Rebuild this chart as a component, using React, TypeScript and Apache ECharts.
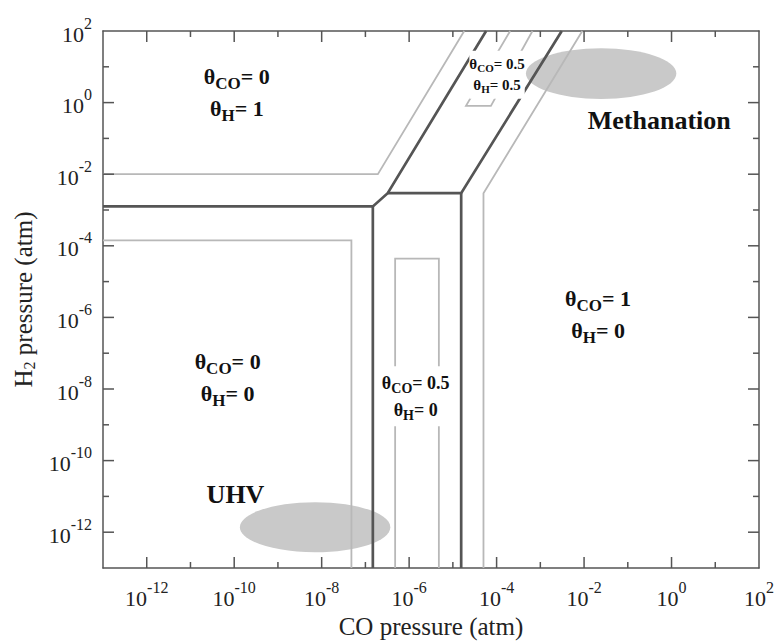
import React, { useEffect, useRef } from 'react';
import * as echarts from 'echarts';

// Axes are log10 of pressure (atm)
const X_MIN = -13;
const X_MAX = 2;
const Y_MIN = -13;
const Y_MAX = 2;
// interior decade ticks (long ones are labelled, every second decade)
const decadeTicks = [-12, -11, -10, -9, -8, -7, -6, -5, -4, -3, -2, -1, 0, 1];

// Phase boundaries [log10 P_CO, log10 P_H2]
const darkUpperLeft = [[-13, -2.9], [-6.83, -2.9], [-6.49, -2.53], [-4.24, 2]];
const darkLeftVertical = [[-6.83, -2.9], [-6.83, -13]];
const darkUpperRight = [[-6.49, -2.53], [-4.81, -2.53], [-2.51, 2]];
const darkRightVertical = [[-4.81, -2.53], [-4.81, -13]];

const lightHydrogen = [[-13, -2], [-6.715, -2], [-4.74, 2]];
const lightEmpty = [[-13, -3.85], [-7.32, -3.85], [-7.32, -13]];
const lightHalfCO = [[-6.32, -13], [-6.32, -4.36], [-5.32, -4.36], [-5.32, -13]];
const lightFullCO = [[-4.3, -13], [-4.3, -2.53], [-2.04, 2]];
const lightMixed = [[-3.69, 2], [-4.7, -0.09], [-4.13, -0.09], [-3.18, 2]];

// Operating regions (ellipses): centre and half-extent in decades
const ellipseCenters = [[-8.15, -11.86], [-1.61, 0.81]];
const ellipseHalfWidths = [1.72, 1.72];
const ellipseHalfHeights = [0.7, 0.71];
const ellipseNames = ['UHV', 'Methanation'];
const ellipseNameAt = [[-9.97, -10.94], [-0.28, -0.5]];

// Coverage labels
const thetaCO = ['0', '0', '1', '0.5', '0.5'];
const thetaH = ['1', '0', '0', '0', '0.5'];
const regionLabelAt = [[-9.94, 0.28], [-10.15, -7.67], [-1.68, -5.92], [-5.85, -8.2], [-3.99, 0.78]];
const regionLabelSize = ['big', 'big', 'big', 'medium', 'small'];
const regionLabelMasked = [false, false, false, true, true];

const FONT = "'Liberation Serif', 'DejaVu Serif', serif";
const AXIS_COLOR = '#555';
const DARK = '#555555';
const LIGHT = '#b8b8b8';
const ELLIPSE = '#c9c9c9';

const labelRich: Record<string, any> = {
  big: {
    t: { fontSize: 22, fontWeight: 'bold', fontFamily: FONT, lineHeight: 32, fill: '#111' },
    s: { fontSize: 17, fontWeight: 'bold', fontFamily: FONT, padding: [14, 0, 0, 0], fill: '#111' },
  },
  medium: {
    t: { fontSize: 18, fontWeight: 'bold', fontFamily: FONT, lineHeight: 27, fill: '#111' },
    s: { fontSize: 14, fontWeight: 'bold', fontFamily: FONT, padding: [11, 0, 0, 0], fill: '#111' },
  },
  small: {
    t: { fontSize: 15, fontWeight: 'bold', fontFamily: FONT, lineHeight: 21, fill: '#111' },
    s: { fontSize: 11, fontWeight: 'bold', fontFamily: FONT, padding: [8, 0, 0, 0], fill: '#111' },
  },
};

const tickRich = {
  b: { fontSize: 22, fontFamily: FONT, color: '#222', padding: [6, 0, 0, 0] },
  s: { fontSize: 16, fontFamily: FONT, color: '#222', padding: [0, 0, 16, 0] },
};

const powerLabel = (v: number) => (Math.round(v) % 2 === 0 ? `{b|10}{s|${Math.round(v)}}` : '');

function makeAxis(dim: 'x' | 'y', position: string, labels: boolean) {
  const isX = dim === 'x';
  const ax: any = {
    type: 'value',
    position,
    min: isX ? X_MIN : Y_MIN,
    max: isX ? X_MAX : Y_MAX,
    minInterval: 2,
    maxInterval: 2,
    axisLine: { show: true, onZero: false, lineStyle: { color: AXIS_COLOR, width: 1.5 } },
    axisTick: { show: false },
    axisLabel: { show: false },
    splitLine: { show: false },
  };
  if (labels) {
    ax.axisLabel = {
      show: true,
      margin: 11,
      fontFamily: FONT,
      fontSize: 22,
      color: '#222',
      formatter: powerLabel,
      rich: tickRich,
    };
    ax.nameLocation = 'middle';
    if (isX) {
      ax.name = 'CO pressure (atm)';
      ax.nameGap = 46;
      ax.nameTextStyle = { fontFamily: FONT, fontSize: 25, color: '#222' };
    } else {
      ax.name = '{n|H}{u|2}{n| pressure (atm)}';
      ax.nameGap = 64;
      ax.nameTextStyle = {
        fontFamily: FONT,
        fontSize: 25,
        color: '#222',
        rich: {
          n: { fontFamily: FONT, fontSize: 25, color: '#222' },
          u: { fontFamily: FONT, fontSize: 16, color: '#222', padding: [12, 0, 0, 0] },
        },
      };
    }
  }
  return ax;
}

function lineSeries(data: number[][], color: string, width: number, z: number) {
  return {
    type: 'line',
    data,
    xAxisIndex: 0,
    yAxisIndex: 0,
    symbol: 'none',
    silent: true,
    z,
    lineStyle: { color, width, join: 'miter' },
    animation: false,
  };
}

export default function App() {
  const ref = useRef<HTMLDivElement>(null);
  useEffect(() => {
    if (!ref.current) return;
    const chart = echarts.init(ref.current, null, { renderer: 'svg' });
    const option: any = {
      animation: false,
      backgroundColor: '#fff',
      grid: { left: 103, right: 17, top: 31, bottom: 75 },
      xAxis: [makeAxis('x', 'bottom', true), makeAxis('x', 'top', false)],
      yAxis: [makeAxis('y', 'left', true), makeAxis('y', 'right', false)],
      series: [
        {
          type: 'custom',
          xAxisIndex: 0,
          yAxisIndex: 0,
          silent: true,
          z: 1,
          data: ellipseCenters.map((c, i) => [c[0], c[1], ellipseHalfWidths[i], ellipseHalfHeights[i]]),
          renderItem: (params: any, api: any) => {
            const c = api.coord([api.value(0), api.value(1)]);
            const s = api.size([api.value(2), api.value(3)]);
            return {
              type: 'ellipse',
              shape: { cx: c[0], cy: c[1], rx: s[0], ry: s[1] },
              style: { fill: ELLIPSE },
            };
          },
        },
        // inward tick marks on all four sides, long every second decade
        {
          type: 'custom',
          xAxisIndex: 0,
          yAxisIndex: 0,
          silent: true,
          z: 5,
          data: decadeTicks.map((v) => [v, v]),
          renderItem: (params: any, api: any) => {
            const v = api.value(0);
            const len = Math.round(v) % 2 === 0 ? 11 : 6;
            const b = api.coord([v, Y_MIN]);
            const t = api.coord([v, Y_MAX]);
            const l = api.coord([X_MIN, v]);
            const r = api.coord([X_MAX, v]);
            return {
              type: 'group',
              children: [
                { type: 'line', shape: { x1: b[0], y1: b[1], x2: b[0], y2: b[1] - len }, style: { stroke: AXIS_COLOR, lineWidth: 1.5 } },
                { type: 'line', shape: { x1: t[0], y1: t[1], x2: t[0], y2: t[1] + len }, style: { stroke: AXIS_COLOR, lineWidth: 1.5 } },
                { type: 'line', shape: { x1: l[0], y1: l[1], x2: l[0] + len, y2: l[1] }, style: { stroke: AXIS_COLOR, lineWidth: 1.5 } },
                { type: 'line', shape: { x1: r[0], y1: r[1], x2: r[0] - len, y2: r[1] }, style: { stroke: AXIS_COLOR, lineWidth: 1.5 } },
              ],
            };
          },
        },
        lineSeries(lightHydrogen, LIGHT, 1.8, 3),
        lineSeries(lightEmpty, LIGHT, 1.8, 3),
        lineSeries(lightHalfCO, LIGHT, 1.8, 3),
        lineSeries(lightFullCO, LIGHT, 1.8, 3),
        lineSeries(lightMixed, LIGHT, 1.8, 3),
        lineSeries(darkUpperLeft, DARK, 2.7, 4),
        lineSeries(darkLeftVertical, DARK, 2.7, 4),
        lineSeries(darkUpperRight, DARK, 2.7, 4),
        lineSeries(darkRightVertical, DARK, 2.7, 4),
        {
          type: 'custom',
          xAxisIndex: 0,
          yAxisIndex: 0,
          silent: true,
          z: 6,
          data: regionLabelAt,
          renderItem: (params: any, api: any) => {
            const i = params.dataIndex;
            const p = api.coord([api.value(0), api.value(1)]);
            const style: any = {
              text: `{t|θ}{s|CO}{t|= ${thetaCO[i]}}\n{t|θ}{s|H}{t|= ${thetaH[i]}}`,
              rich: labelRich[regionLabelSize[i]],
              align: 'center',
              verticalAlign: 'middle',
              fill: '#111',
            };
            if (regionLabelMasked[i]) {
              style.backgroundColor = '#fff';
              style.padding = [3, 0, 3, 0];
            }
            return { type: 'text', x: p[0], y: p[1], style };
          },
        },
        {
          type: 'custom',
          xAxisIndex: 0,
          yAxisIndex: 0,
          silent: true,
          z: 6,
          data: ellipseNameAt,
          renderItem: (params: any, api: any) => {
            const i = params.dataIndex;
            const p = api.coord([api.value(0), api.value(1)]);
            return {
              type: 'text',
              x: p[0],
              y: p[1],
              style: {
                text: ellipseNames[i],
                fontFamily: FONT,
                fontSize: 26,
                fontWeight: 'bold',
                fill: '#111',
                align: 'center',
                verticalAlign: 'middle',
              },
            };
          },
        },
      ],
    };
    chart.setOption(option);
    return () => chart.dispose();
  }, []);
  return (
    <div
      ref={ref}
      style={{ position: 'fixed', left: 0, top: 0, width: 777, height: 644, background: '#fff' }}
    />
  );
}
